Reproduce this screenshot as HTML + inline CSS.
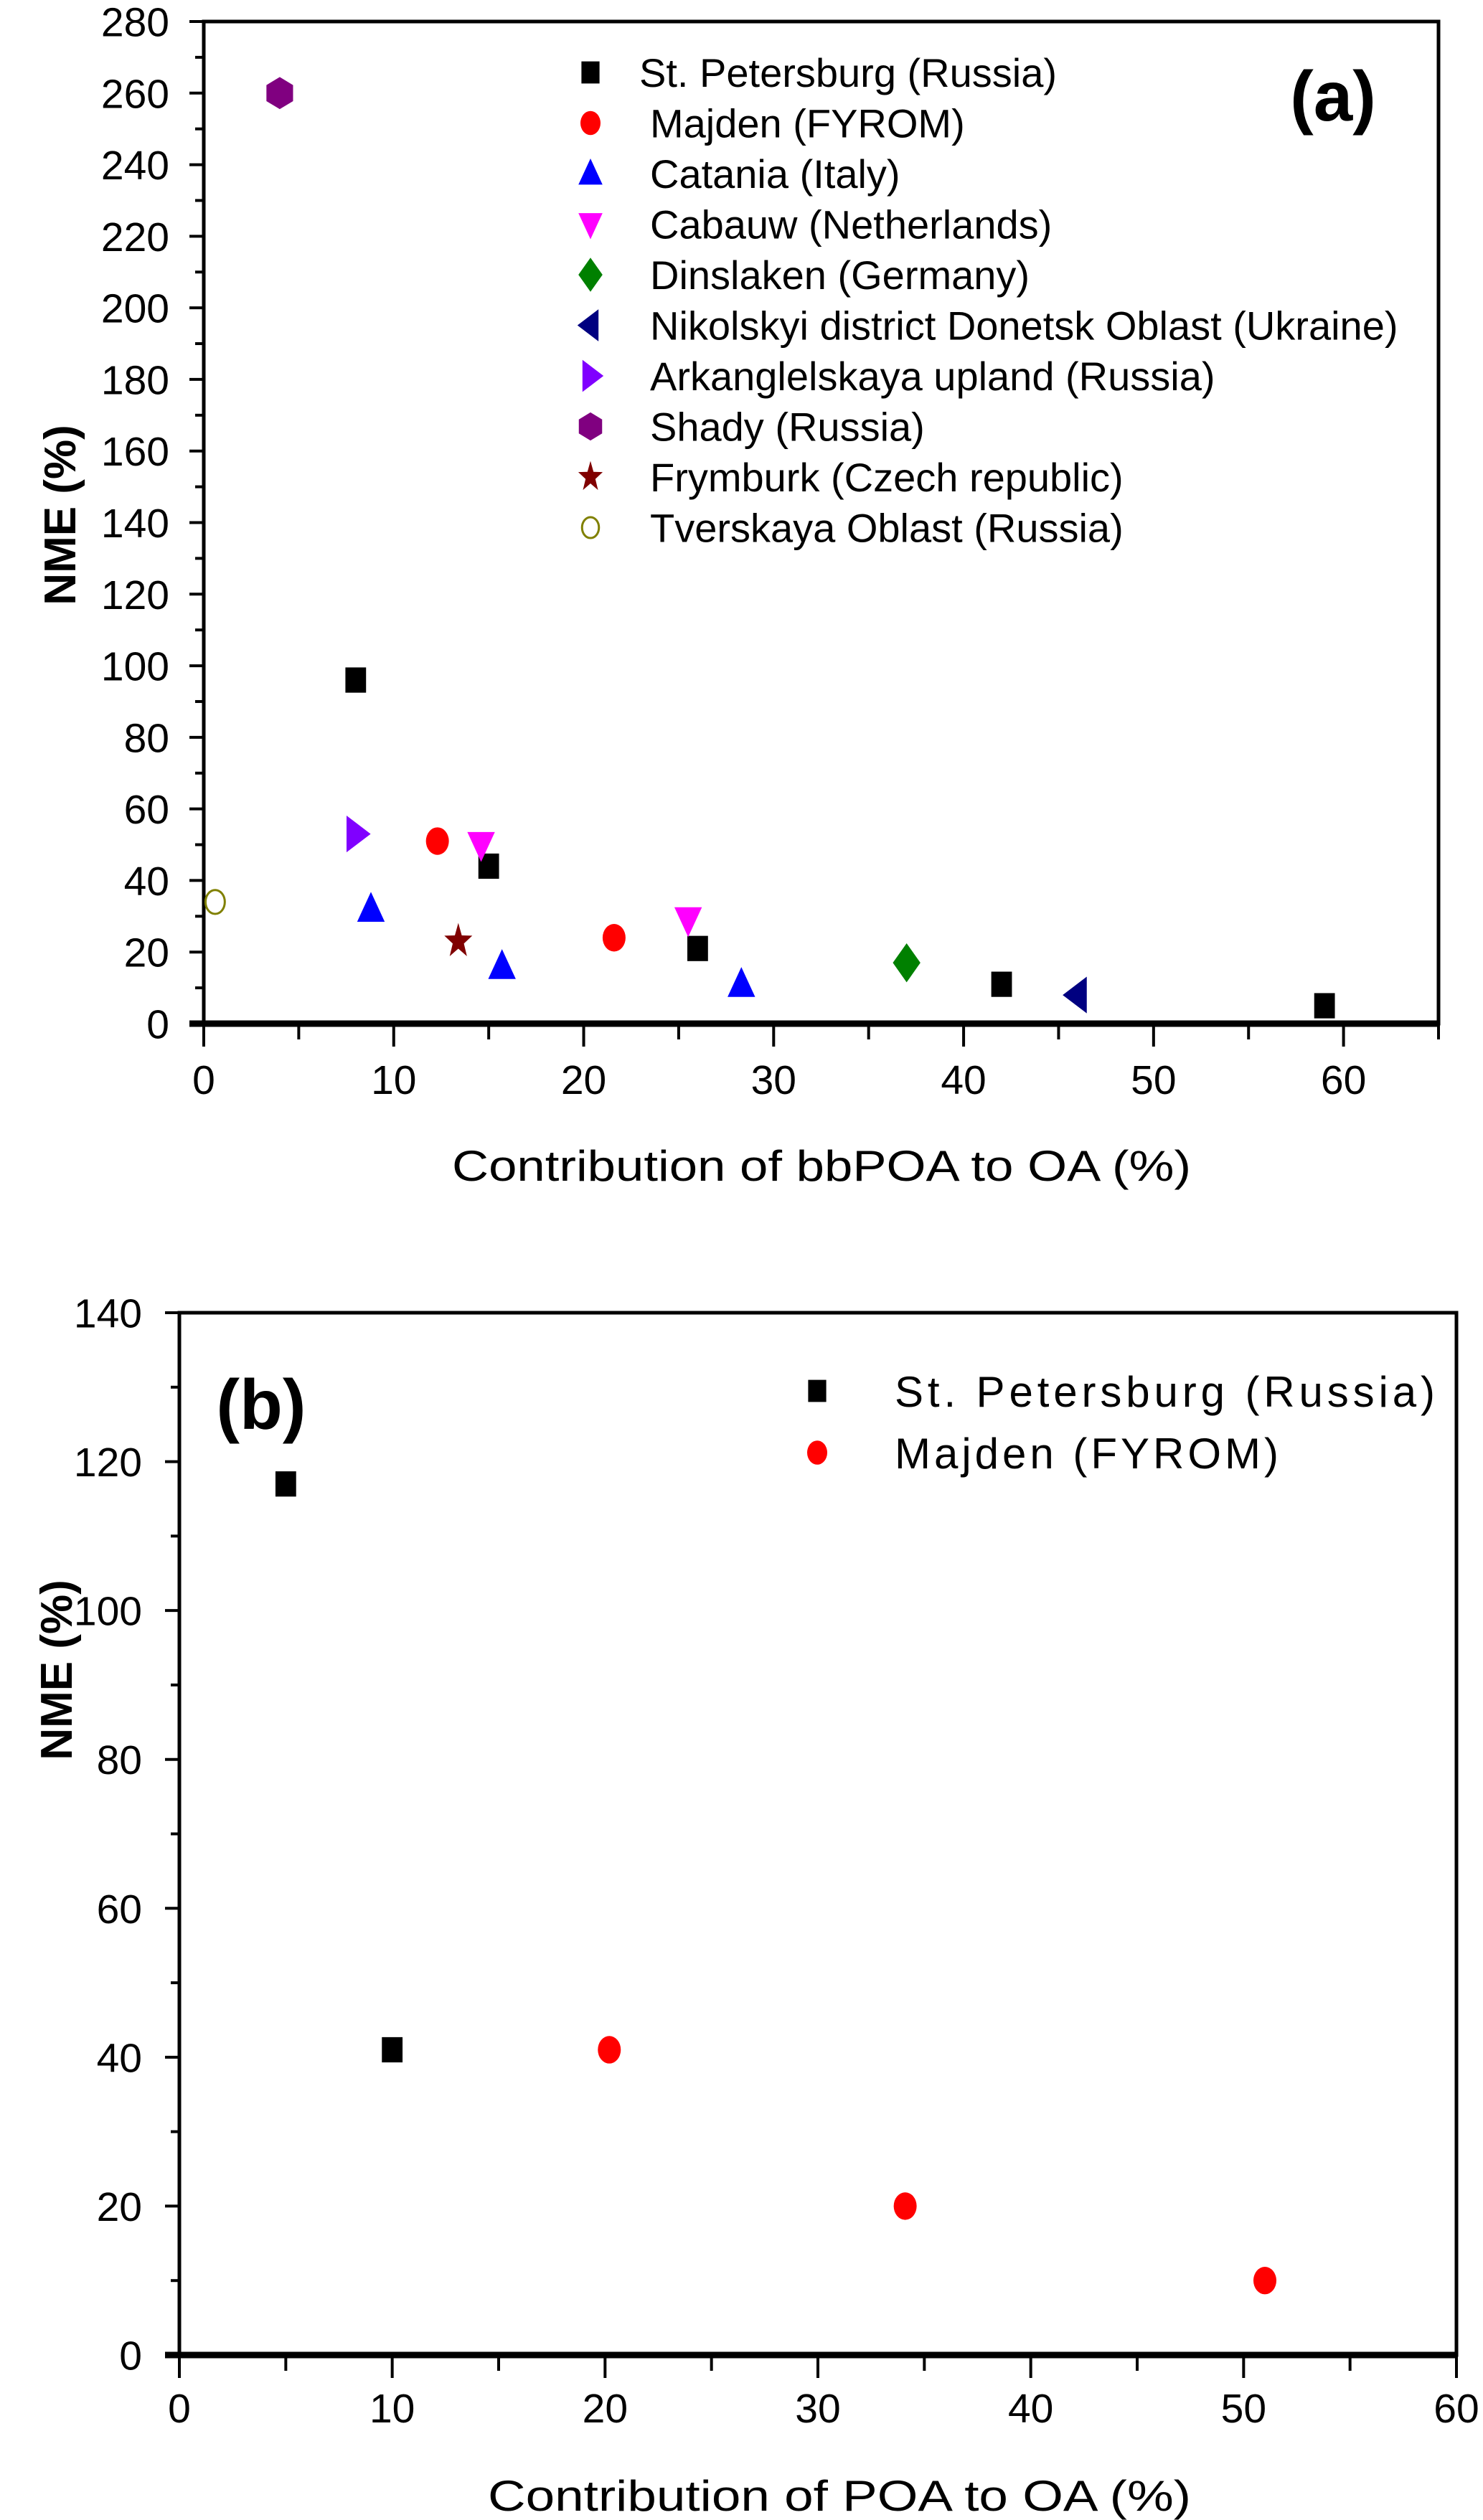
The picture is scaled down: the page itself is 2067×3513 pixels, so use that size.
<!DOCTYPE html>
<html><head><meta charset="utf-8"><style>
html,body{margin:0;padding:0;background:#fff;}
svg{display:block;}
text{font-family:"Liberation Sans",Arial,sans-serif;}
</style></head><body>
<svg id="root" width="2067" height="3513" viewBox="0 0 2067 3513" xmlns="http://www.w3.org/2000/svg">
<g id="chartA"></g>
<g id="chartB"></g>
</svg>
<script>
// ---- Chart (a) data ----
const aSeriesNames = ["St. Petersburg (Russia)","Majden (FYROM)","Catania (Italy)","Cabauw (Netherlands)","Dinslaken (Germany)","Nikolskyi district Donetsk Oblast (Ukraine)","Arkanglelskaya upland (Russia)","Shady (Russia)","Frymburk (Czech republic)","Tverskaya Oblast (Russia)"];
const aX_stp = [8, 15, 26, 42, 59];
const aY_stp = [96, 44, 21, 11, 5];
const aX_maj = [12.3, 21.6];
const aY_maj = [51, 24];
const aX_cat = [8.8, 15.7, 28.3];
const aY_cat = [32, 16, 11];
const aX_cab = [14.6, 25.5];
const aY_cab = [50, 29];
const aX_din = [37];
const aY_din = [17];
const aX_nik = [46];
const aY_nik = [8];
const aX_ark = [8];
const aY_ark = [53];
const aX_sha = [4];
const aY_sha = [260];
const aX_fry = [13.4];
const aY_fry = [23];
const aX_tve = [0.6];
const aY_tve = [34];
const aXTicks = [0,10,20,30,40,50,60];
const aYTicks = [0,20,40,60,80,100,120,140,160,180,200,220,240,260,280];

// ---- Chart (b) data ----
const bSeriesNames = ["St. Petersburg (Russia)","Majden (FYROM)"];
const bX_stp = [5, 10];
const bY_stp = [117, 41];
const bX_maj = [20.2, 34.1, 51];
const bY_maj = [41, 20, 10];
const bXTicks = [0,10,20,30,40,50,60];
const bYTicks = [0,20,40,60,80,100,120,140];

const NS = "http://www.w3.org/2000/svg";
function mk(parent, tag, attrs){
  const e = document.createElementNS(NS, tag);
  for (const k in attrs) e.setAttribute(k, attrs[k]);
  parent.appendChild(e);
  return e;
}
function marker(g, shape, color, cx, cy, s){
  let el;
  if (shape==="square") el = mk(g,"rect",{x:cx-s*0.45,y:cy-s*0.55,width:s*0.9,height:s*1.1,fill:color});
  else if (shape==="circle") el = mk(g,"ellipse",{cx:cx,cy:cy,rx:s*0.5,ry:s*0.6,fill:color});
  else if (shape==="ocircle") el = mk(g,"ellipse",{cx:cx,cy:cy,rx:s*0.42,ry:s*0.52,fill:"none",stroke:color,"stroke-width":3});
  else if (shape==="up") el = mk(g,"polygon",{points:`${cx},${cy-s*0.75} ${cx-s*0.6},${cy+s*0.55} ${cx+s*0.6},${cy+s*0.55}`,fill:color});
  else if (shape==="down") el = mk(g,"polygon",{points:`${cx-s*0.6},${cy-s*0.55} ${cx+s*0.6},${cy-s*0.55} ${cx},${cy+s*0.75}`,fill:color});
  else if (shape==="left") el = mk(g,"polygon",{points:`${cx-s*0.65},${cy} ${cx+s*0.4},${cy-s*0.8} ${cx+s*0.4},${cy+s*0.8}`,fill:color});
  else if (shape==="right") el = mk(g,"polygon",{points:`${cx+s*0.65},${cy} ${cx-s*0.4},${cy-s*0.8} ${cx-s*0.4},${cy+s*0.8}`,fill:color});
  else if (shape==="diamond") el = mk(g,"polygon",{points:`${cx},${cy-s*0.85} ${cx+s*0.6},${cy} ${cx},${cy+s*0.85} ${cx-s*0.6},${cy}`,fill:color});
  else if (shape==="hex") el = mk(g,"polygon",{points:`${cx},${cy-s*0.7} ${cx+s*0.58},${cy-s*0.35} ${cx+s*0.58},${cy+s*0.35} ${cx},${cy+s*0.7} ${cx-s*0.58},${cy+s*0.35} ${cx-s*0.58},${cy-s*0.35}`,fill:color});
  else if (shape==="star"){
    let p=[];for(let i=0;i<10;i++){const r=i%2?s*0.32:s*0.8;const a=-Math.PI/2+i*Math.PI/5;p.push((cx+r*Math.cos(a)*0.8)+","+(cy+r*Math.sin(a)));}
    el = mk(g,"polygon",{points:p.join(" "),fill:color});
  }
  return el;
}

function drawAxes(g, L, R, T, B, xmax, ymax, xTicks, yTicks, xMinorStep, yMinorStep, xLabY, yLabR, fs){
  const X = v => L + (R-L)*v/xmax;
  const Y = v => B - (B-T)*v/ymax;
  const frame = mk(g,"rect",{x:L,y:T,width:R-L,height:B-T,fill:"none",stroke:"#000","stroke-width":5});
  
  
  const xb = mk(g,"line",{x1:L-20,y1:B,x2:R,y2:B,stroke:"#000","stroke-width":9});
  
  
  for (let v=0; v<=xmax+1e-9; v+=xMinorStep){
    const major = xTicks.indexOf(v)>=0;
    mk(g,"line",{x1:X(v),y1:B,x2:X(v),y2:B+(major?32:22),stroke:"#000","stroke-width":4});
  }
  for (let v=0; v<=ymax+1e-9; v+=yMinorStep){
    const major = yTicks.indexOf(v)>=0;
    mk(g,"line",{x1:L,y1:Y(v),x2:L-(major?20:12),y2:Y(v),stroke:"#000","stroke-width":4});
  }
  xTicks.forEach(v=>{
    const t = mk(g,"text",{x:X(v),y:xLabY,"font-size":fs,"text-anchor":"middle",fill:"#000"});
    t.textContent = v;
    
    
  });
  yTicks.forEach(v=>{
    const t = mk(g,"text",{x:yLabR,y:Y(v)+fs*0.36,"font-size":fs,"text-anchor":"end",fill:"#000"});
    t.textContent = v;
    
    
  });
  return {X,Y};
}

// ---- Draw chart (a) ----
(function(){
  const g = document.getElementById("chartA");
  const ax = drawAxes(g, 284, 2005, 30, 1427, 65, 280, aXTicks, aYTicks, 5, 10, 1525, 236, 57);
  const series = [
    [aX_stp,aY_stp,"square","#000"],
    [aX_maj,aY_maj,"circle","#ff0000"],
    [aX_cat,aY_cat,"up","#0000ff"],
    [aX_cab,aY_cab,"down","#ff00ff"],
    [aX_din,aY_din,"diamond","#008000"],
    [aX_nik,aY_nik,"left","#000080"],
    [aX_ark,aY_ark,"right","#8000ff"],
    [aX_sha,aY_sha,"hex","#800080"],
    [aX_fry,aY_fry,"star","#800000"],
    [aX_tve,aY_tve,"ocircle","#808000"]
  ];
  series.forEach((s,i)=>{
    const sg = mk(g,"g",{});
    
    
    s[0].forEach((xv,j)=>{
      const m = marker(sg, s[2], s[3], ax.X(xv), ax.Y(s[1][j]), 32);
      
      
    });
    const ly = 101 + i*70.5;
    const lm = marker(sg, s[2], s[3], 823, ly, 28);
    
    
    const t = mk(g,"text",{x:i===0?891:906,y:ly+20,"font-size":56,fill:"#000"});
    t.textContent = aSeriesNames[i];
    
    
  });
  const lab = mk(g,"text",{x:1858,y:168,"font-size":98,"font-weight":"bold","text-anchor":"middle",fill:"#000"});
  lab.textContent = "(a)";
  
  
  const xt = mk(g,"text",{x:1145,y:1646,"font-size":60,"text-anchor":"middle",fill:"#000",textLength:1030,lengthAdjust:"spacingAndGlyphs"});
  xt.textContent = "Contribution of bbPOA to OA (%)";
  
  
  const yt = mk(g,"text",{x:0,y:0,"font-size":62,"font-weight":"bold","text-anchor":"middle",fill:"#000",transform:"translate(105,718) rotate(-90)"});
  yt.textContent = "NME (%)";
  
  
})();

// ---- Draw chart (b) ----
(function(){
  const g = document.getElementById("chartB");
  const ax = drawAxes(g, 250, 2030, 1830, 3283, 60, 140, bXTicks, bYTicks, 5, 10, 3377, 198, 57);
  const series = [[bX_stp,bY_stp,"square","#000"],[bX_maj,bY_maj,"circle","#ff0000"]];
  series.forEach((s,i)=>{
    const sg = mk(g,"g",{});
    
    
    s[0].forEach((xv,j)=>{
      const m = marker(sg, s[2], s[3], ax.X(xv), ax.Y(s[1][j]), 32);
      
      
    });
    const ly = 1939 + i*86;
    const lm = marker(sg, s[2], s[3], 1139, ly, 28);
    
    
    const t = mk(g,"text",{x:1247,y:ly+22,"font-size":60,fill:"#000",textLength:i===0?753:535,lengthAdjust:"spacing"});
    t.textContent = bSeriesNames[i];
    
    
  });
  const lab = mk(g,"text",{x:364,y:1992,"font-size":98,"font-weight":"bold","text-anchor":"middle",fill:"#000"});
  lab.textContent = "(b)";
  
  
  const xt = mk(g,"text",{x:1170,y:3500,"font-size":60,"text-anchor":"middle",fill:"#000",textLength:980,lengthAdjust:"spacingAndGlyphs"});
  xt.textContent = "Contribution of POA to OA (%)";
  
  
  const yt = mk(g,"text",{x:0,y:0,"font-size":62,"font-weight":"bold","text-anchor":"middle",fill:"#000",transform:"translate(100,2328) rotate(-90)"});
  yt.textContent = "NME (%)";
  
  
})();
</script>
</body></html>
